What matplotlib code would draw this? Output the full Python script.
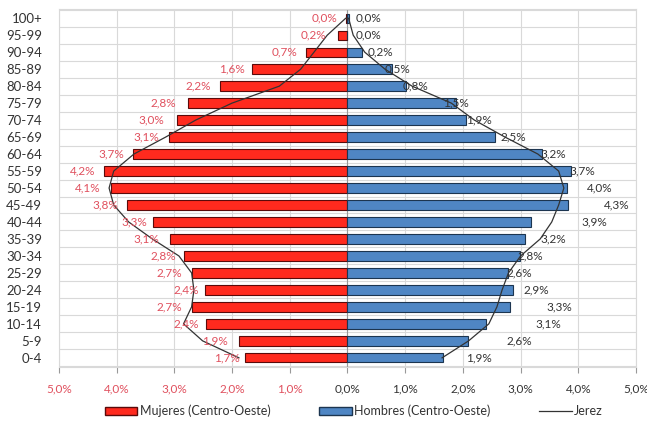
import matplotlib
matplotlib.use("Agg")
import matplotlib.pyplot as plt
from matplotlib.patches import Patch
from matplotlib.lines import Line2D

plt.rcParams['font.family'] = ['Lato', 'DejaVu Sans']

ages = ["0-4", "5-9", "10-14", "15-19", "20-24", "25-29", "30-34", "35-39", "40-44",
        "45-49", "50-54", "55-59", "60-64", "65-69", "70-74", "75-79", "80-84",
        "85-89", "90-94", "95-99", "100+"]

mujeres = [1.77, 1.88, 2.45, 2.70, 2.47, 2.70, 2.84, 3.08, 3.37, 3.82, 4.09, 4.21,
           3.71, 3.09, 2.96, 2.76, 2.21, 1.65, 0.72, 0.17, 0.02]
hombres = [1.65, 2.09, 2.40, 2.81, 2.87, 2.79, 2.99, 3.08, 3.18, 3.83, 3.80, 3.87,
           3.37, 2.55, 2.06, 1.88, 1.01, 0.77, 0.25, 0.0, 0.02]

mujeres_labels = [1.7, 1.9, 2.4, 2.7, 2.4, 2.7, 2.8, 3.1, 3.3, 3.8, 4.1, 4.2,
                  3.7, 3.1, 3.0, 2.8, 2.2, 1.6, 0.7, 0.2, 0.0]
hombres_labels = [1.9, 2.6, 3.1, 3.3, 2.9, 2.6, 2.8, 3.2, 3.9, 4.3, 4.0, 3.7,
                  3.2, 2.5, 1.9, 1.5, 0.8, 0.5, 0.2, 0.0, 0.0]

jerez_mujeres = [1.88, 2.51, 2.84, 2.70, 2.66, 2.70, 2.92, 3.38, 3.79, 4.05, 4.13, 4.05,
                 3.70, 3.15, 2.63, 2.00, 1.18, 0.81, 0.58, 0.35, 0.03]
jerez_hombres = [1.64, 2.10, 2.45, 2.59, 2.68, 2.79, 3.00, 3.34, 3.54, 3.66, 3.75, 3.66,
                 3.30, 2.73, 2.20, 1.80, 1.12, 0.65, 0.30, 0.10, 0.02]

xticks = [-5, -4, -3, -2, -1, 0, 1, 2, 3, 4, 5]

RED = "#FF2A1E"
RED_EDGE = "#5A0A0A"
BLUE = "#4F86C4"
BLUE_EDGE = "#1C3550"
PINK = "#E0505E"
TXT = "#333333"

fig = plt.figure(figsize=(6.47, 4.23), dpi=100)
ax = fig.add_axes([0.091, 0.132, 0.892, 0.847])

y = list(range(len(ages)))
ax.barh(y, [-v for v in mujeres], height=0.55, color=RED, edgecolor=RED_EDGE, linewidth=0.8, zorder=3)
ax.barh(y, hombres, height=0.55, color=BLUE, edgecolor=BLUE_EDGE, linewidth=0.8, zorder=3)

# Jerez outline: from bottom-left up to top and down to bottom-right
jx = [-v for v in jerez_mujeres] + list(reversed(jerez_hombres))
jy = y + list(reversed(y))
ax.plot(jx, jy, color="#333333", linewidth=0.9, zorder=4, solid_joinstyle="round")

for yi, v in zip(y, mujeres_labels):
    ax.text(-(v + 0.17), yi, f"{v:.1f}%".replace(".", ","), ha="right", va="center",
            fontsize=8.5, color=PINK, zorder=5)
for yi, v in zip(y, hombres_labels):
    ax.text(v + 0.15, yi, f"{v:.1f}%".replace(".", ","), ha="left", va="center",
            fontsize=8.5, color=TXT, zorder=5)

ax.set_xlim(-5, 5)
ax.set_ylim(-0.55, 20.55)
ax.set_xticks(xticks)
ax.set_xticklabels([f"{abs(t):.1f}%".replace(".", ",") for t in xticks], fontsize=8.5)
for lbl, t in zip(ax.get_xticklabels(), xticks):
    lbl.set_color(PINK if t < 0 else TXT)
ax.set_yticks(y)
ax.set_yticklabels(ages, fontsize=9.5, color=TXT)
ax.set_yticks([i + 0.5 for i in range(-1, len(ages))], minor=True)
ax.tick_params(axis="y", which="both", length=0, pad=12)
ax.tick_params(axis="x", length=4, color="#999999", pad=8)

ax.grid(axis="x", color="#D9D9D9", linewidth=0.8, zorder=0)
ax.grid(axis="y", which="minor", color="#D9D9D9", linewidth=0.8, zorder=0)
for s in ax.spines.values():
    s.set_color("#D9D9D9")
    s.set_linewidth(0.8)
ax.axvline(0, color="#999999", linewidth=0.8, zorder=2)

handles = [Patch(facecolor=RED, edgecolor=RED_EDGE, label="Mujeres (Centro-Oeste)"),
           Patch(facecolor=BLUE, edgecolor=BLUE_EDGE, label="Hombres (Centro-Oeste)"),
           Line2D([0], [0], color="#333333", linewidth=0.9, label="Jerez")]
fig.legend(handles=handles, loc="center", bbox_to_anchor=(0.547, 0.028), ncol=3,
           frameon=False, fontsize=9, columnspacing=3.9, handlelength=2.6,
           handletextpad=0.2, labelcolor=TXT)

fig.savefig("out.png", dpi=100)
